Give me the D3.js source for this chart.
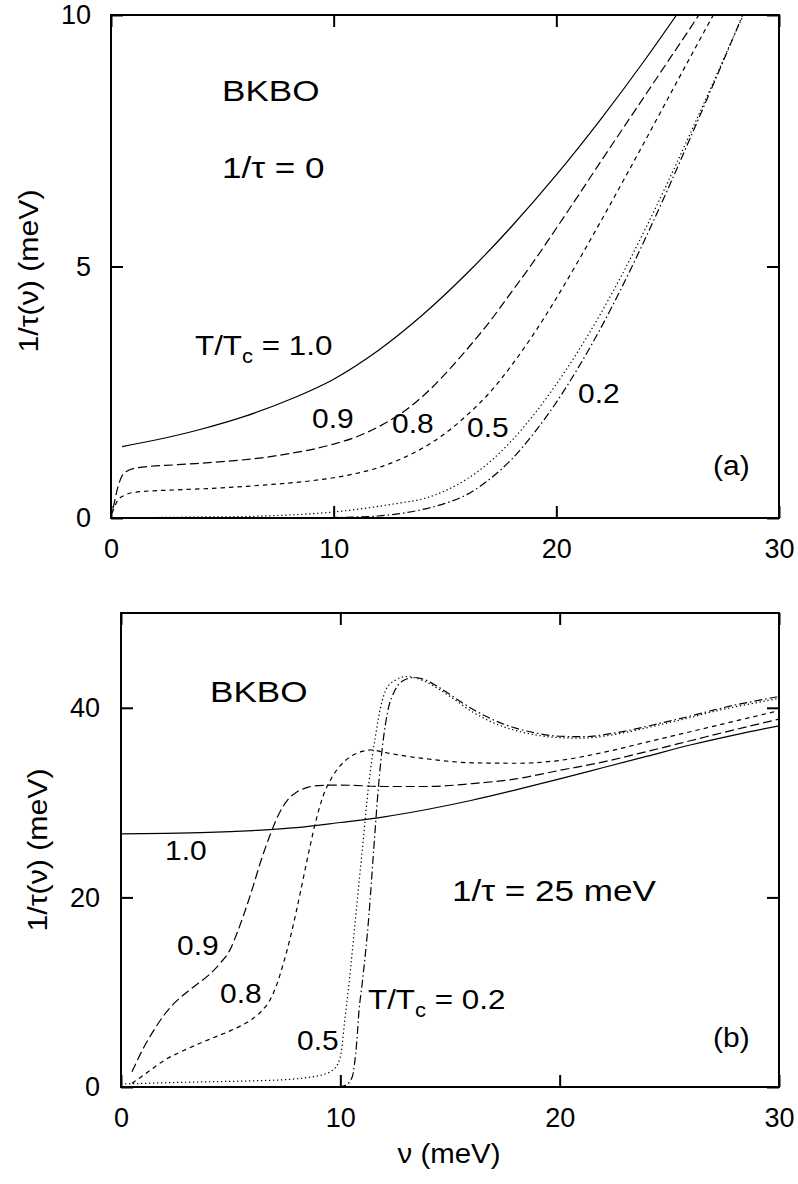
<!DOCTYPE html>
<html>
<head>
<meta charset="utf-8">
<script src="https://cdn.jsdelivr.net/npm/d3@7"></script>
<style>
  body { margin: 0; background: #fff; }
  text { font-family: "Liberation Sans", Arial, Helvetica, sans-serif; fill: #000; }
</style>
</head>
<body>
<svg id="chart" width="798" height="1184"></svg>
<script>
// ---- Shared axis settings ----
const xTicks = [0, 10, 20, 30];
const xTickLabels = ["0", "10", "20", "30"];

// ---- Panel (a): 1/tau = 0, y ticks ----
const yTicksA = [0, 5, 10];
const yTickLabelsA = ["0", "5", "10"];

// Panel (a) curves, [nu (meV), 1/tau(nu) (meV)] for each T/Tc
const a_T10 = [[0.5,1.42],[2,1.55],[4,1.76],[6,2.02],[8,2.35],[10,2.76],[12,3.33],[14,4.04],[16,4.87],[18,5.8],[20,6.82],[22,7.93],[24,9.12],[25.4,10.0]];
const a_T09 = [[0.1,0.2],[0.3,0.6],[0.6,0.9],[1.2,1.0],[3,1.06],[5,1.12],[7,1.21],[8,1.28],[9,1.36],[10,1.47],[11,1.61],[12,1.81],[13,2.07],[14,2.42],[15,2.86],[16,3.36],[17,3.9],[18,4.5],[19,5.11],[20,5.76],[21,6.42],[22,7.09],[23,7.75],[24,8.41],[25,9.07],[26,9.73],[26.4,10.0]];
const a_T08 = [[0.05,0.1],[0.3,0.35],[0.6,0.45],[1.2,0.52],[3,0.56],[5,0.6],[7,0.66],[9,0.74],[10,0.8],[11,0.885],[12,1.0],[13,1.17],[14,1.39],[15,1.68],[16,2.05],[17,2.49],[18,3.04],[19,3.67],[20,4.37],[21,5.12],[22,5.9],[23,6.7],[24,7.51],[25,8.33],[26,9.15],[27.05,10.0]];
const a_T05 = [[0.1,0.0],[2,0.01],[4,0.02],[6,0.03],[8,0.06],[10,0.12],[11,0.17],[12,0.23],[13,0.3],[14,0.38],[15,0.54],[16,0.78],[17,1.11],[18,1.54],[19,2.06],[20,2.66],[21,3.33],[22,4.07],[23,4.88],[24,5.75],[25,6.67],[26,7.63],[27,8.61],[28,9.61],[28.4,10.0]];
const a_T02 = [[0.1,0.0],[5,0.0],[10,0.01],[11,0.02],[12,0.04],[13,0.09],[14,0.17],[15,0.29],[16,0.47],[17,0.77],[18,1.17],[19,1.69],[20,2.3],[21,3.0],[22,3.78],[23,4.64],[24,5.56],[25,6.53],[26,7.54],[27,8.57],[28,9.61],[28.37,10.0]];

// ---- Panel (b): 1/tau = 25 meV, y ticks ----
const yTicksB = [0, 20, 40];
const yTickLabelsB = ["0", "20", "40"];

// Panel (b) curves
const b_T10 = [[0,26.7],[2,26.75],[4,26.85],[6,27.05],[8,27.35],[10,27.9],[12,28.5],[14,29.3],[16,30.25],[18,31.35],[20,32.5],[22,33.7],[24,34.9],[26,36.1],[28,37.15],[30,38.1]];
const b_T09 = [[0.5,1.6],[1,4.0],[1.5,6.0],[2,7.7],[2.5,9.0],[3,10.0],[3.5,10.9],[4,11.8],[4.5,13.0],[5,14.6],[5.3,16.3],[5.6,18.2],[6,21.0],[6.4,24.0],[6.8,26.6],[7.2,28.8],[7.6,30.3],[8,31.1],[8.5,31.6],[9,31.8],[10,31.85],[12,31.7],[14,31.7],[16,32.0],[18,32.5],[20,33.4],[22,34.3],[24,35.4],[26,36.55],[28,37.7],[30,38.8]];
const b_T08 = [[0.5,0.4],[1,1.2],[2,2.85],[3,4.0],[4,5.0],[5,5.95],[5.5,6.5],[6,7.2],[6.4,8.0],[6.8,9.2],[7.1,10.8],[7.4,13.0],[7.7,15.6],[8.0,18.6],[8.3,21.9],[8.6,25.2],[8.9,28.2],[9.2,30.6],[9.6,32.6],[10.0,33.9],[10.5,34.9],[11.0,35.4],[11.4,35.55],[12,35.3],[13,34.9],[14,34.6],[16,34.2],[18,34.15],[20,34.45],[22,35.3],[24,36.4],[26,37.5],[28,38.6],[30,39.7]];
const b_T05 = [[0,0.3],[2,0.45],[4,0.55],[6,0.65],[7.5,0.78],[8.5,1.0],[9.2,1.3],[9.6,1.7],[9.9,2.5],[10.05,3.8],[10.2,7.0],[10.4,11.0],[10.7,18.0],[11.0,25.0],[11.3,32.0],[11.6,37.0],[11.85,40.2],[12.1,42.0],[12.5,42.9],[13.0,43.3],[13.5,43.1],[14.1,42.5],[15,41.2],[16,39.6],[17,38.4],[18,37.6],[19,37.1],[20,36.85],[21,36.8],[22,37.0],[23,37.4],[24,37.9],[25,38.45],[26,39.0],[27,39.6],[28,40.1],[29,40.55],[30,41.0]];
const b_T02 = [[0,0.0],[5,0.0],[9,0.0],[10.0,0.05],[10.25,0.2],[10.55,1.1],[10.65,2.5],[10.75,4.8],[10.85,8.0],[11.0,11.0],[11.3,18.0],[11.52,25.0],[11.75,32.0],[11.95,36.5],[12.15,39.5],[12.5,41.9],[12.9,42.9],[13.35,43.2],[13.8,43.0],[14.4,42.3],[15,41.4],[16,39.9],[17,38.7],[18,37.85],[19,37.3],[20,37.0],[21,36.95],[22,37.15],[23,37.55],[24,38.05],[25,38.6],[26,39.15],[27,39.75],[28,40.3],[29,40.75],[30,41.2]];

// Dash patterns per T/Tc
const dashStyles = { "1.0": null, "0.9": "9,4", "0.8": "4.5,4", "0.5": "1.3,2.7", "0.2": "8,3,1.5,3" };

const svg = d3.select("#chart");
const FONT_TICK = 27;

function drawPanel(cfg) {
  const x = d3.scaleLinear().domain([0, 30]).range([cfg.left, cfg.right]);
  const y = d3.scaleLinear().domain(cfg.yDomain).range([cfg.bottom, cfg.top]);
  const g = svg.append("g");

  const clipId = "clip-" + cfg.id;
  svg.append("defs").append("clipPath").attr("id", clipId)
    .append("rect")
    .attr("x", cfg.left).attr("y", cfg.top)
    .attr("width", cfg.right - cfg.left).attr("height", cfg.bottom - cfg.top);

  // curves
  const line = d3.line().x(d => x(d[0])).y(d => y(d[1])).curve(d3.curveMonotoneX);
  const curves = g.append("g").attr("clip-path", `url(#${clipId})`);
  cfg.series.forEach(s => {
    curves.append("path")
      .attr("d", line(s.data))
      .attr("fill", "none")
      .attr("stroke", "#000")
      .attr("stroke-width", 1.2)
      .attr("stroke-dasharray", dashStyles[s.key]);
  });

  // axes with inward ticks (mirrored on top and right)
  const tickStyle = sel => {
    sel.select(".domain").remove();
    sel.selectAll(".tick line").attr("stroke", "#000").attr("stroke-width", 2);
    sel.selectAll(".tick text").attr("font-size", FONT_TICK).attr("font-family", null);
  };
  g.append("g").attr("transform", `translate(0,${cfg.bottom})`)
    .call(d3.axisBottom(x).tickValues(xTicks).tickFormat((d, i) => xTickLabels[i])
      .tickSizeInner(-12).tickSizeOuter(0).tickPadding(20.5))
    .call(tickStyle);
  g.append("g").attr("transform", `translate(0,${cfg.top})`)
    .call(d3.axisTop(x).tickValues(xTicks).tickFormat("").tickSizeInner(-12).tickSizeOuter(0))
    .call(tickStyle);
  g.append("g").attr("transform", `translate(${cfg.left},0)`)
    .call(d3.axisLeft(y).tickValues(cfg.yTicks).tickFormat((d, i) => cfg.yTickLabels[i])
      .tickSizeInner(-12).tickSizeOuter(0).tickPadding(cfg.yPad))
    .call(tickStyle);
  g.append("g").attr("transform", `translate(${cfg.right},0)`)
    .call(d3.axisRight(y).tickValues(cfg.yTicks).tickFormat("").tickSizeInner(-12).tickSizeOuter(0))
    .call(tickStyle);

  // frame
  g.append("rect")
    .attr("x", cfg.left).attr("y", cfg.top)
    .attr("width", cfg.right - cfg.left).attr("height", cfg.bottom - cfg.top)
    .attr("fill", "none").attr("stroke", "#000").attr("stroke-width", 2);

  // y axis title
  g.append("text")
    .attr("transform", `translate(${cfg.yTitleX},${cfg.yTitleY}) rotate(-90) scale(1.08,1)`)
    .attr("text-anchor", "middle")
    .attr("font-size", 28)
    .text("1/τ(ν) (meV)");

  // annotations
  cfg.notes.forEach(n => {
    const t = g.append("text")
      .attr("transform", `translate(${n.x},${n.y}) scale(${n.sx || 1.1},1)`)
      .attr("font-size", n.size);
    if (n.sub) {
      t.append("tspan").text("T/T");
      t.append("tspan").attr("dy", 8).attr("font-size", n.size * 0.7).text("c");
      t.append("tspan").attr("dy", -8).text(" = " + n.text);
    } else {
      t.text(n.text);
    }
  });
  return { x, y, g };
}

drawPanel({
  id: "a", left: 111, right: 779, top: 15, bottom: 518,
  yDomain: [0, 10], yTicks: yTicksA, yTickLabels: yTickLabelsA, yPad: 20,
  yTitleX: 38, yTitleY: 271,
  series: [
    { key: "1.0", data: a_T10 }, { key: "0.9", data: a_T09 }, { key: "0.8", data: a_T08 },
    { key: "0.5", data: a_T05 }, { key: "0.2", data: a_T02 }
  ],
  notes: [
    { x: 222, y: 101, size: 30, sx: 1.17, text: "BKBO" },
    { x: 222, y: 178, size: 30, sx: 1.17, text: "1/τ = 0" },
    { x: 195, y: 355, size: 28, sx: 1.12, text: "1.0", sub: true },
    { x: 312, y: 428, size: 28, sx: 1.07, text: "0.9" },
    { x: 392, y: 433, size: 28, sx: 1.07, text: "0.8" },
    { x: 467, y: 437, size: 28, sx: 1.07, text: "0.5" },
    { x: 578, y: 403, size: 28, sx: 1.07, text: "0.2" },
    { x: 713, y: 475, size: 28, sx: 1.07, text: "(a)" }
  ]
});

drawPanel({
  id: "b", left: 121, right: 779, top: 613, bottom: 1087,
  yDomain: [0, 50], yTicks: yTicksB, yTickLabels: yTickLabelsB, yPad: 21,
  yTitleX: 47, yTitleY: 850,
  series: [
    { key: "1.0", data: b_T10 }, { key: "0.9", data: b_T09 }, { key: "0.8", data: b_T08 },
    { key: "0.5", data: b_T05 }, { key: "0.2", data: b_T02 }
  ],
  notes: [
    { x: 210, y: 702, size: 30, sx: 1.17, text: "BKBO" },
    { x: 165, y: 860, size: 28, sx: 1.07, text: "1.0" },
    { x: 177, y: 955, size: 28, sx: 1.07, text: "0.9" },
    { x: 220, y: 1003, size: 28, sx: 1.07, text: "0.8" },
    { x: 297, y: 1050, size: 28, sx: 1.07, text: "0.5" },
    { x: 368, y: 1009, size: 28, sx: 1.12, text: "0.2", sub: true },
    { x: 452, y: 901, size: 30, sx: 1.17, text: "1/τ = 25 meV" },
    { x: 713, y: 1047, size: 28, sx: 1.07, text: "(b)" }
  ]
});

// x axis title (shared, under the lower panel)
svg.append("text")
  .attr("transform", "translate(449,1163) scale(1.05,1)")
  .attr("text-anchor", "middle")
  .attr("font-size", 28)
  .text("ν (meV)");
</script>
</body>
</html>
